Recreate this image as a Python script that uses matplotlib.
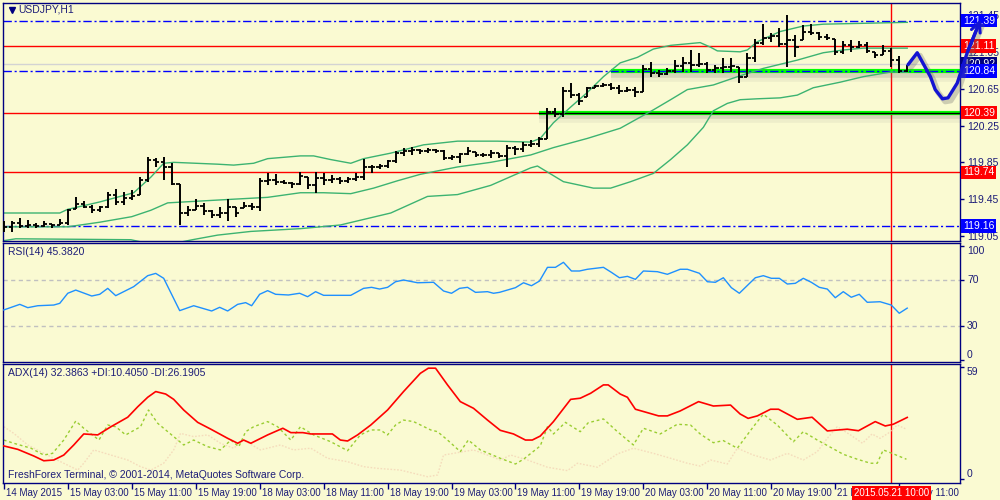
import matplotlib
matplotlib.use("Agg")
import matplotlib.pyplot as plt
import matplotlib.patheffects as pe
from matplotlib.transforms import blended_transform_factory as blend
import numpy as np

plt.rcParams['font.family'] = ['Liberation Sans', 'DejaVu Sans']
plt.rcParams['font.size'] = 7.5

BG = '#FAFAD2'
NAVY = '#000080'
TXT = '#1c1c78'

# ---- price bars (USDJPY H1), bar index 0 = 14 May 19:00 ----
opens = [119.18,119.15,119.19,119.16,119.17,119.16,119.18,119.17,119.19,119.34,
         119.40,119.37,119.33,119.36,119.50,119.42,119.46,119.50,119.66,119.88,
         119.85,119.80,119.62,119.30,119.33,119.38,119.32,119.28,119.30,119.37,
         119.35,119.38,119.36,119.65,119.66,119.64,119.63,119.62,119.69,119.60,
         119.68,119.66,119.67,119.65,119.67,119.69,119.80,119.80,119.81,119.86,
         119.95,119.97,119.98,119.97,119.98,119.97,119.90,119.91,119.94,119.96,
         119.93,119.93,119.95,119.92,120.01,119.99,120.04,120.05,120.10,120.40,
         120.38,120.62,120.58,120.56,120.66,120.68,120.69,120.66,120.62,120.64,
         120.61,120.86,120.82,120.81,120.84,120.90,120.93,120.91,120.92,120.85,
         120.87,120.88,120.89,120.78,120.98,121.15,121.20,121.22,121.14,121.18,
         121.18,121.27,121.25,121.21,121.19,121.05,121.12,121.10,121.12,121.05,
         121.02,121.06,120.96,120.84]
highs = [119.21,119.21,119.25,119.22,119.19,119.21,119.18,119.23,119.34,119.47,
         119.43,119.39,119.38,119.53,119.56,119.53,119.55,119.69,119.91,119.90,
         119.91,119.84,119.62,119.38,119.45,119.41,119.33,119.36,119.45,119.37,
         119.42,119.41,119.68,119.73,119.72,119.66,119.64,119.75,119.69,119.75,
         119.73,119.71,119.69,119.69,119.73,119.89,119.82,119.83,119.88,119.97,
         120.01,120.02,120.00,120.01,120.00,119.98,119.93,119.95,120.02,119.96,
         119.95,119.98,119.95,120.04,120.03,120.07,120.09,120.12,120.44,120.44,
         120.67,120.71,120.60,120.67,120.69,120.71,120.71,120.69,120.67,120.67,
         120.91,120.94,120.85,120.87,120.96,120.99,121.07,121.04,120.94,120.91,
         120.98,120.98,120.89,121.04,121.19,121.35,121.25,121.31,121.45,121.23,
         121.34,121.35,121.27,121.24,121.19,121.17,121.18,121.17,121.16,121.05,
         121.12,121.09,121.00,120.91]
lows = [119.09,119.09,119.14,119.14,119.14,119.15,119.14,119.17,119.17,119.34,
        119.35,119.30,119.31,119.35,119.39,119.39,119.44,119.50,119.64,119.80,
        119.66,119.60,119.17,119.27,119.33,119.28,119.25,119.25,119.21,119.26,
        119.35,119.33,119.32,119.60,119.60,119.62,119.57,119.60,119.56,119.52,
        119.60,119.63,119.62,119.63,119.65,119.66,119.73,119.78,119.79,119.84,
        119.92,119.93,119.94,119.95,119.95,119.88,119.88,119.84,119.93,119.91,
        119.91,119.90,119.90,119.80,119.93,119.96,120.02,120.02,120.10,120.34,
        120.34,120.55,120.47,120.56,120.66,120.67,120.64,120.59,120.61,120.56,
        120.61,120.78,120.78,120.80,120.82,120.83,120.83,120.89,120.82,120.82,
        120.82,120.83,120.71,120.78,120.94,121.12,121.16,121.10,120.89,120.99,
        121.18,121.23,121.18,121.18,121.02,121.03,121.05,121.09,121.04,120.98,
        121.02,120.89,120.82,120.83]
closes = [119.15,119.19,119.16,119.17,119.16,119.18,119.17,119.19,119.33,119.40,
          119.37,119.33,119.36,119.50,119.42,119.46,119.49,119.66,119.88,119.85,
          119.80,119.62,119.30,119.33,119.38,119.32,119.28,119.30,119.37,119.30,
          119.38,119.36,119.65,119.66,119.64,119.63,119.62,119.70,119.60,119.68,
          119.66,119.67,119.65,119.67,119.69,119.80,119.80,119.81,119.86,119.95,
          119.97,119.98,119.97,119.98,119.97,119.90,119.91,119.94,119.97,119.93,
          119.93,119.95,119.92,120.01,119.99,120.04,120.05,120.10,120.40,120.38,
          120.62,120.58,120.52,120.66,120.68,120.69,120.66,120.62,120.64,120.61,
          120.86,120.82,120.81,120.84,120.90,120.93,120.91,120.92,120.85,120.87,
          120.88,120.90,120.78,120.98,121.15,121.20,121.22,121.14,121.18,121.10,
          121.27,121.25,121.21,121.20,121.05,121.12,121.10,121.12,121.06,121.02,
          121.06,120.96,120.84,120.92]

# ---- Bollinger bands (bar index, price) ----
bb_up_x = [0,7,8,12,16.25,18.4,20,21.25,26.75,28.75,31.25,33,37.1,38.75,40.9,43.4,45,48.4,52.5,56.75,
           61.75,65.9,67.1,68.75,70.9,73,75,77.1,79.25,81.25,83.4,87.1,88.4,89.25,92.1,93,94.25,97.1,100,102.5,113]
bb_up = [119.30,119.30,119.34,119.42,119.52,119.69,119.84,119.85,119.83,119.82,119.84,119.89,119.92,119.92,119.88,
         119.84,119.89,119.95,120.04,120.08,120.08,120.07,120.11,120.28,120.45,120.61,120.78,120.93,120.99,121.08,
         121.12,121.15,121.10,121.06,121.05,121.07,121.16,121.27,121.33,121.35,121.37]
bb_mid_x = [0,8,12,16,18.4,20.5,24.6,28.75,33,37.1,40,43.4,46.25,49.25,52.1,56.75,60.9,65.9,68.75,73,
            77.1,81.25,83.4,85.5,88.75,92.1,95,99.25,102.5,105,107.5,113]
bb_mid = [119.15,119.15,119.20,119.26,119.33,119.41,119.43,119.45,119.47,119.52,119.52,119.51,119.57,119.65,119.72,
          119.80,119.85,119.93,120.01,120.11,120.22,120.42,120.53,120.64,120.69,120.79,120.87,120.96,121.04,121.07,
          121.09,121.09]
bb_lo_x = [0,1.5,15.9,19.6,23.6,26.75,30.9,37.1,42.1,48.4,53,56.75,60.9,65.9,66.75,70,73.75,75.9,78.4,81.25,
           83.4,85.5,87.5,88.75,90.5,92.1,94.25,97.1,99.25,101.25,104.6,107.5,110.9,113]
bb_lo = [119.00,119.02,119.01,118.94,119.01,119.06,119.10,119.13,119.17,119.30,119.48,119.50,119.60,119.79,119.81,
         119.64,119.57,119.57,119.64,119.73,119.88,120.04,120.23,120.41,120.49,120.53,120.54,120.55,120.58,120.66,
         120.72,120.78,120.83,120.83]

# ---- RSI(14) ----
rsi_x = [0,2,3,4.25,6.25,7,8,9,11,12,13,14,16.25,18,19,20,22,23.75,26,27,
         28,29.25,30.25,31,32,33,34,35.6,37,38,39,40,43.4,45,46,47,48,49,50,51.75,
         53.75,55,56,57,58,59,60.5,61.25,62,64,65,66,67,68,69,70,71,72,73,75,
         76,77,78,79,80,81.75,83,84.6,85.5,87,88,89,90,91,92,94,95,96,97,98,
         99,100,101,102,103,104,105,106,107,108,109.6,111,112,113]
rsi = [43.8,48.7,45.8,47.5,48.1,49.6,58.4,61.2,56.0,57.5,62.7,56.3,64.2,73.8,75.8,71.5,43.2,47.5,42.9,46.1,
       42.9,48.7,50.2,47.5,57.5,60.7,57.5,56.9,58.4,55.4,59.8,56.6,56.6,62.7,63.6,62.1,63.6,68.5,70.0,67.6,
       68.0,60.4,58.4,62.7,63.6,59.2,59.8,58.4,59.2,63.3,67.6,65.0,69.1,81.1,81.1,85.5,77.9,77.9,79.4,81.1,
       76.7,72.0,73.2,70.6,77.9,77.3,75.0,79.4,79.4,75.9,68.5,68.0,72.0,63.3,58.4,72.0,73.8,71.5,71.5,66.5,
       67.1,71.5,68.0,63.6,62.1,54.5,59.8,54.9,57.5,50.5,51.0,48.1,40.9,45.4]

# ---- ADX(14), +DI, -DI ----
adx_x = [0,1.75,3.75,5,6.25,7.5,8.75,10,11.75,13.4,15.5,16.75,18,19,20.25,21.25,22.5,24.25,25.9,28,
         29.25,30,30.9,33,34.9,35.9,37.4,38.4,41.1,42.1,43,44.25,45.9,48,50,52.1,53.1,54,55.5,57.1,
         58.75,60.5,62.1,63.75,65.25,66.1,67.1,68.75,70.9,72.1,73.4,75,75.6,77.1,78,79,80.5,81.9,83,84.6,
         86.9,88.75,90.9,92.1,93.1,94.25,95.9,96.9,99.25,101.1,103,105.5,106.9,109,110.25,111.25,113]
adx = [17.4,15.6,12.1,9.6,10.0,12.6,17.9,23.7,23.2,27.5,32.5,38.0,43.0,46.0,44.7,41.9,36.3,29.8,26.2,21.4,
       18.8,20.5,18.8,23.2,26.7,24.4,24.4,23.7,23.7,20.5,20.0,23.2,28.4,36.3,46.0,55.6,58.3,58.3,49.5,40.7,
       37.2,31.0,25.6,23.7,20.5,20.5,22.6,30.2,41.9,42.5,45.1,49.5,49.5,44.7,43.0,36.7,34.9,33.2,33.2,35.8,
       40.7,38.4,38.9,34.2,31.9,33.2,36.7,36.7,31.4,32.5,25.3,26.2,25.4,30.2,27.9,28.8,32.4]
pdi_x = [0,1.25,3.4,5,6.1,7.5,9,10,11.9,13,14,15.25,17.1,18.1,19.25,21.25,22.5,23.75,25.5,27.1,
         28.4,29.4,30.25,31.25,33,34.25,35.9,37.1,38.75,40.9,43,44.6,45.9,47.1,48,49,50,51.25,53.4,54.25,
         55.5,57.1,58.1,59.6,62.1,64,65,67.1,68,68.75,70.25,72.1,73.1,75,76.75,78.75,80,82.1,84.25,85.9,
         87.1,88.75,90,91.75,93.75,95,96.75,98.75,100,101.75,103.4,105,106.75,108.4,109.25,110,111.1,112.9]
pdi = [20.5,18.8,16.2,12.6,13.5,20.5,30.5,26.7,20.5,28.4,27.5,23.2,27.5,36.3,29.3,22.3,17.9,20.5,17.0,15.3,
       20.5,17.0,24.9,27.5,30.2,27.5,20.5,27.5,23.2,19.6,14.9,23.2,25.8,25.8,23.2,28.4,31.0,30.2,25.8,24.9,
       20.5,14.4,20.5,15.3,10.9,7.9,10.4,17.4,27.5,23.7,29.8,24.9,29.6,31.6,24.9,17.9,26.7,23.7,28.8,28.4,
       23.7,19.1,20.2,16.2,27.5,34.1,28.4,19.6,24.9,20.5,16.7,13.0,10.4,8.3,8.3,15.3,13.5,10.4]
mdi_x = [0,1.25,3,4.6,7.1,9.25,10,11.25,13.4,15.5,17.1,18.4,20,21.25,22.1,23.75,25.5,27.1,28.75,30,
         32.1,34.6,36.25,38.4,40.5,43,45,46.75,49.6,53,54.25,55,56.25,58.75,60.5,62.1,63.4,65.5,68,70.5,
         71.75,74.25,76.75,78.75,81.25,83,85.5,87.1,88.4,90.5,91.75,93.75,95.9,98,100,101.75,103,104.25,105.9,107.4,
         108.6,109.6,110.6,111.75,112.9]
mdi = [27.5,24.0,17.9,14.4,9.1,4.7,8.3,15.3,12.6,10.0,6.5,4.7,8.3,15.3,24.0,22.3,23.2,18.8,16.2,20.5,
       15.3,17.9,15.3,16.2,10.9,9.1,6.5,5.6,4.7,1.2,2.1,12.6,13.5,15.3,12.6,10.0,12.6,10.0,6.2,4.4,
       8.3,6.2,13.2,16.2,13.5,11.4,8.3,6.8,10.0,7.9,16.2,12.6,10.0,13.5,10.0,14.4,21.4,27.5,23.2,18.8,
       23.7,21.4,24.0,28.4,26.2]

# ---- levels, annotations, labels ----
blue_levels = [121.39, 120.84, 119.16]
red_levels = [121.11, 120.39, 119.74]
bid = 120.92
support_lines = [(120.84, 76), (120.39, 67)]  # (price, start bar)
forecast_x = [113.1, 114.25, 115.9, 116.5, 117.4, 118.1, 119.25, 120.5, 122.0]
forecast_y = [120.91, 121.04, 120.78, 120.64, 120.54, 120.55, 120.71, 121.04, 121.36]
forecast_tip = (122.3, 121.43)
cursor_bar = 111
cursor_label = '2015.05.21 10:00'

price_ticks = [121.45, 121.05, 120.65, 120.25, 119.85, 119.45, 119.05]
price_tags = [(121.39, '121.39', '#0000FF'), (121.11, '121.11', '#FF0000'),
              (120.92, '120.92', '#000080'), (120.84, '120.84', '#0000FF'),
              (120.39, '120.39', '#FF0000'), (119.74, '119.74', '#FF0000'),
              (119.16, '119.16', '#0000FF')]
time_idx = list(range(0, 113, 8))
time_labels = ['14 May 2015', '15 May 03:00', '15 May 11:00', '15 May 19:00', '18 May 03:00',
               '18 May 11:00', '18 May 19:00', '19 May 03:00', '19 May 11:00', '19 May 19:00',
               '20 May 03:00', '20 May 11:00', '20 May 19:00', '21 May 03:00', '21 May 11:00']

DASHDOT = (0, (6, 2, 1.5, 2))

fig = plt.figure(figsize=(10, 5), dpi=100, facecolor=BG)
ax = fig.add_axes([0.003, 0.518, 0.957, 0.476])
ax_rsi = fig.add_axes([0.003, 0.276, 0.957, 0.238])
ax_adx = fig.add_axes([0.003, 0.034, 0.957, 0.238])

for a in (ax, ax_rsi, ax_adx):
    a.set_facecolor(BG)
    a.set_xlim(-0.1, 119.6)
    for s in a.spines.values():
        s.set_color(NAVY)
        s.set_linewidth(1.0)
    a.yaxis.tick_right()
    a.tick_params(axis='y', direction='out', length=3, width=1, color=NAVY,
                  labelcolor=TXT, labelsize=7.5, pad=2)
    a.tick_params(axis='x', bottom=False, labelbottom=False)
    a.axvline(cursor_bar, color='red', lw=1, zorder=1.5)

# ---- main price panel ----
ax.set_ylim(118.996, 121.58)
ax.set_yticks(price_ticks, [f'{p:.2f}' for p in price_ticks])

for p in red_levels:
    ax.axhline(p, color='red', lw=1, zorder=1)
ax.axhline(bid, color='#D3D3D3', lw=1, zorder=1)

shadow = [pe.Stroke(offset=(0, -4), linewidth=7, foreground='#888888', alpha=0.10),
          pe.Stroke(offset=(0, -2.5), linewidth=4, foreground='#666666', alpha=0.18),
          pe.Normal()]
for p, start in support_lines:
    ax.plot([start, 119.6], [p, p], color='#00FF00', lw=3.0, solid_capstyle='butt',
            path_effects=shadow, zorder=2)
ax.plot([support_lines[1][1], 119.6], [support_lines[1][0]] * 2, color='black', lw=1, zorder=2.1)

for p in blue_levels:
    ax.axhline(p, color='#0000FF', lw=1, ls=DASHDOT, zorder=2.2)

ax.plot(bb_up_x, bb_up, color='#3CB371', lw=1, zorder=2.5)
ax.plot(bb_mid_x, bb_mid, color='#3CB371', lw=1, zorder=2.5)
ax.plot(bb_lo_x, bb_lo, color='#3CB371', lw=1, zorder=2.5)

idx = np.arange(len(closes))
ax.vlines(idx, lows, highs, color='black', lw=1.4, zorder=3)
ax.hlines(opens, idx - 0.4, idx, color='black', lw=1.3, zorder=3)
ax.hlines(closes, idx, idx + 0.4, color='black', lw=1.3, zorder=3)

# hand drawn forecast curve with arrow
curve_fx = [pe.Stroke(offset=(2, -2), linewidth=4, foreground='#666666', alpha=0.3), pe.Normal()]
ax.plot(forecast_x, forecast_y, color='#1414D2', lw=2.4, clip_on=False, zorder=12,
        solid_capstyle='round', path_effects=curve_fx)
ax.annotate('', xy=forecast_tip, xytext=(forecast_x[-2], forecast_y[-2]),
            arrowprops=dict(arrowstyle='->,head_length=0.9,head_width=0.45', lw=2.2, color='#1414D2'),
            annotation_clip=False, zorder=12)

tag_tr = blend(ax.transAxes, ax.transData)
for p, txt, col in price_tags:
    ax.text(1.003, p, txt, transform=tag_tr, ha='left', va='center', color='white', fontsize=7.5,
            bbox=dict(boxstyle='square,pad=0.18', fc=col, ec='none'), zorder=11, clip_on=False)

ax.plot([0.009], [0.972], marker='v', ms=4, color=NAVY, transform=ax.transAxes)
fig.text(0.018, 1 - 10 / 500, 'USDJPY,H1', color=TXT, va='center', fontsize=7.5)

# ---- RSI panel ----
ax_rsi.set_ylim(-1.76, 102.4)
ax_rsi.axhline(70, color='#C0C0C0', lw=1, ls=(0, (3, 2.5)), zorder=1)
ax_rsi.axhline(30, color='#C0C0C0', lw=1, ls=(0, (3, 2.5)), zorder=1)
ax_rsi.plot(rsi_x, rsi, color='#1E90FF', lw=1, zorder=3)
ax_rsi.set_yticks([0, 30, 70, 100], ['0', '30', '70', '100'])
for lbl, va in zip(ax_rsi.get_yticklabels(), ['bottom', 'center', 'center', 'top']):
    lbl.set_va(va)
fig.text(0.008, 1 - 252 / 500, 'RSI(14) 45.3820', color=TXT, va='center', fontsize=7.5)

# ---- ADX panel ----
ax_adx.set_ylim(-2.1, 60.5)
ax_adx.plot(mdi_x, mdi, color='#F5DCBC', lw=1, ls=(0, (1.2, 1.2)), zorder=2)
ax_adx.plot(pdi_x, pdi, color='#9ACD32', lw=1, ls=(0, (2, 2)), zorder=2.2)
ax_adx.plot(adx_x, adx, color='red', lw=1.2, zorder=3)
ax_adx.set_yticks([0, 59], ['0', '59'])
for lbl, va in zip(ax_adx.get_yticklabels(), ['bottom', 'top']):
    lbl.set_va(va)
fig.text(0.008, 1 - 373 / 500, 'ADX(14) 32.3863 +DI:10.4050 -DI:26.1905', color=TXT,
         va='center', fontsize=7.5)
fig.text(0.008, 1 - 475 / 500, 'FreshForex Terminal, \u00a9 2001-2014, MetaQuotes Software Corp.',
         color=TXT, va='center', fontsize=7.5)

# time axis
ax_adx.set_xticks(time_idx)
ax_adx.tick_params(axis='x', bottom=True, labelbottom=False, direction='out', length=4,
                   width=1, color=NAVY)
time_tr = blend(ax_adx.transData, ax_adx.transAxes)
for i, lab in zip(time_idx, time_labels):
    ax_adx.text(i + 0.25, -0.045, lab, transform=time_tr, ha='left', va='top', color=TXT,
                fontsize=7, clip_on=False, zorder=5)
ax_adx.text(cursor_bar, -0.045, cursor_label, transform=time_tr, ha='center', va='top',
            color='white', fontsize=7, clip_on=False, zorder=11,
            bbox=dict(boxstyle='square,pad=0.2', fc='red', ec='none'))

fig.savefig('out.png', dpi=100, facecolor=BG)
